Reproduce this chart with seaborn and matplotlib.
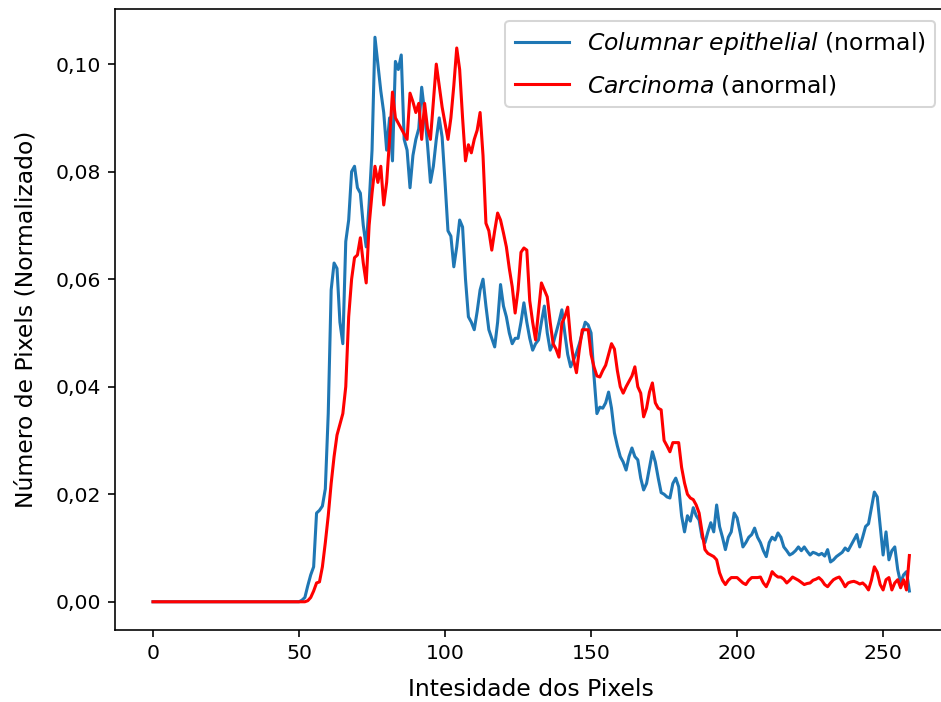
import numpy as np
import pandas as pd
import matplotlib
matplotlib.use("Agg")
import matplotlib.pyplot as plt
from matplotlib.ticker import FuncFormatter
import seaborn as sns

intensity = list(range(260))

normal = [0.0] * 51 + [
    0.0003, 0.0008, 0.003, 0.005, 0.0065, 0.0165, 0.017, 0.0178, 0.021, 0.035,
    0.058, 0.063, 0.062, 0.052, 0.048, 0.067, 0.071, 0.080, 0.081, 0.077,
    0.076, 0.070, 0.066, 0.074, 0.084, 0.105, 0.100, 0.095, 0.091, 0.084,
    0.090, 0.082, 0.1005, 0.099, 0.1017, 0.086, 0.084, 0.077, 0.083, 0.086, 0.088,
    0.0957, 0.091, 0.085, 0.078, 0.081, 0.086, 0.090, 0.0864, 0.078, 0.069,
    0.068, 0.0623, 0.066, 0.071, 0.0697, 0.060, 0.053, 0.052, 0.0506, 0.054,
    0.058, 0.060, 0.055, 0.0506, 0.049, 0.0474, 0.052, 0.059, 0.055, 0.053,
    0.050, 0.048, 0.049, 0.049, 0.052, 0.0556, 0.052, 0.049, 0.0468, 0.048,
    0.0487, 0.052, 0.055, 0.050, 0.0468, 0.048, 0.050, 0.052, 0.0543, 0.050,
    0.046, 0.0437, 0.045, 0.0463, 0.048, 0.050, 0.052, 0.0515, 0.050, 0.042,
    0.035, 0.0362, 0.036, 0.037, 0.039, 0.036, 0.0314, 0.029, 0.027, 0.026,
    0.0245, 0.027, 0.0286, 0.027, 0.0264, 0.023, 0.0208, 0.022, 0.025, 0.0279,
    0.026, 0.023, 0.0203, 0.020, 0.0195, 0.0193, 0.022, 0.023, 0.0214, 0.016, 0.013,
    0.016, 0.015, 0.0175, 0.016, 0.0152, 0.012, 0.011, 0.013, 0.0147, 0.013,
    0.018, 0.014, 0.012, 0.0097, 0.012, 0.013, 0.0165, 0.0156, 0.013, 0.0102,
    0.011, 0.012, 0.0125, 0.0137, 0.012, 0.011, 0.0095, 0.0084, 0.011, 0.012,
    0.0115, 0.0128, 0.012, 0.0102, 0.0095, 0.0087, 0.009, 0.0095, 0.0102, 0.0095,
    0.0102, 0.0094, 0.0087, 0.0092, 0.009, 0.0087, 0.009, 0.0085, 0.0097, 0.0074, 0.0078,
    0.0084, 0.0088, 0.0092, 0.010, 0.0095, 0.0105, 0.0115, 0.0125, 0.0102, 0.012,
    0.014, 0.0145, 0.0175, 0.0204, 0.0195, 0.0140, 0.0087, 0.013, 0.0078, 0.0095,
    0.0102, 0.006, 0.0035, 0.005, 0.0056, 0.002,
]

carcinoma = [0.0] * 53 + [
    0.0002, 0.0008, 0.002, 0.0035, 0.0037, 0.0065, 0.011, 0.016,
    0.022, 0.027, 0.031, 0.033, 0.035, 0.040, 0.053, 0.060, 0.064, 0.0645,
    0.0677, 0.063, 0.0593, 0.070, 0.076, 0.081, 0.078, 0.081, 0.0738, 0.078,
    0.086, 0.0948, 0.090, 0.089, 0.088, 0.087, 0.086, 0.0946, 0.093, 0.091, 0.0927,
    0.086, 0.0927, 0.088, 0.086, 0.093, 0.100, 0.096, 0.092, 0.089, 0.086,
    0.090, 0.096, 0.103, 0.099, 0.090, 0.082, 0.085, 0.0835, 0.086, 0.0877,
    0.091, 0.083, 0.0704, 0.069, 0.0654, 0.069, 0.0723, 0.071, 0.0686, 0.066,
    0.062, 0.0586, 0.0537, 0.058, 0.065, 0.0658, 0.0654, 0.056, 0.052, 0.0487,
    0.054, 0.0593, 0.058, 0.0567, 0.052, 0.048, 0.047, 0.0455, 0.0518, 0.053,
    0.0548, 0.0487, 0.045, 0.0426, 0.047, 0.0506, 0.0506, 0.0506, 0.046, 0.0437,
    0.042, 0.0418, 0.043, 0.044, 0.046, 0.048, 0.047, 0.043, 0.040, 0.0388,
    0.040, 0.041, 0.042, 0.0437, 0.040, 0.0388, 0.0344, 0.036, 0.039, 0.0407,
    0.037, 0.036, 0.0357, 0.030, 0.029, 0.0279, 0.0296, 0.0296, 0.0296, 0.025, 0.0221,
    0.020, 0.0193, 0.019, 0.018, 0.0165, 0.013, 0.0097, 0.009, 0.0087, 0.0084,
    0.0078, 0.0054, 0.004, 0.0032, 0.004, 0.0045, 0.0045, 0.0045, 0.004, 0.0035,
    0.0032, 0.004, 0.0045, 0.0045, 0.0045, 0.0046, 0.0035, 0.0028, 0.004, 0.0056,
    0.005, 0.0046, 0.0046, 0.0042, 0.0035, 0.004, 0.0046, 0.0043, 0.004, 0.0036,
    0.0032, 0.0034, 0.0035, 0.004, 0.0042, 0.0045, 0.004, 0.0032, 0.0028, 0.0035, 0.0041,
    0.0044, 0.0046, 0.0038, 0.0028, 0.0035, 0.0037, 0.0038, 0.0036, 0.0033, 0.0035,
    0.003, 0.0022, 0.004, 0.0065, 0.0055, 0.0032, 0.0022, 0.0041, 0.0045, 0.0022,
    0.0035, 0.0041, 0.0026, 0.0041, 0.0022, 0.0086,
]

label_normal = r"$\it{Columnar\ epithelial}$ (normal)"
label_carc = r"$\it{Carcinoma}$ (anormal)"

df = pd.DataFrame({
    "Intensidade": intensity * 2,
    "Valor": normal + carcinoma,
    "Tipo": [label_normal] * len(normal) + [label_carc] * len(carcinoma),
})

fig = plt.figure(figsize=(941 / 147, 702 / 147), dpi=147)
ax = fig.add_axes([115.2 / 941, 72 / 702, 832 / 941, 621 / 702])

sns.lineplot(data=df, x="Intensidade", y="Valor", hue="Tipo",
             palette={label_normal: "#1f77b4", label_carc: "#ff0000"},
             linewidth=1.5, ax=ax)

ax.set_xlabel("Intesidade dos Pixels", fontsize=11.5, labelpad=7)
ax.set_ylabel("Número de Pixels (Normalizado)", fontsize=11.5, labelpad=9)
ax.yaxis.set_major_formatter(FuncFormatter(lambda v, p: f"{v:.2f}".replace(".", ",")))
ax.set_xticks([0, 50, 100, 150, 200, 250])
ax.legend(loc="upper right", title=None, fontsize=11.5, handlelength=2.3,
          labelspacing=0.7)

fig.savefig("out.png", dpi=147)
